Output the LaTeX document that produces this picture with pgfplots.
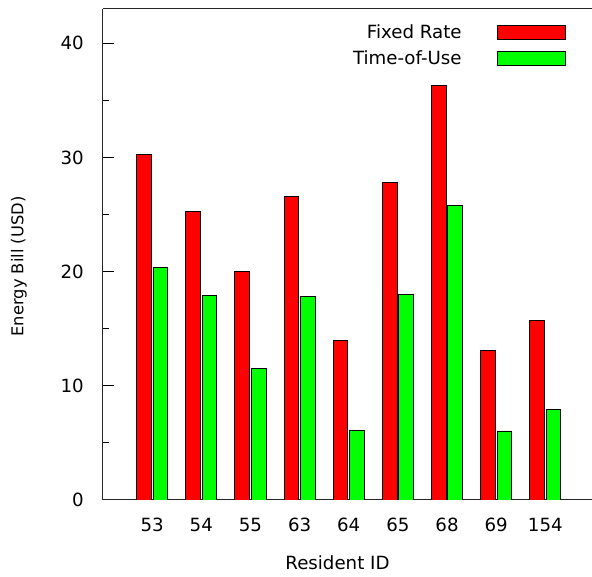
\documentclass[border=0pt]{standalone}
\usepackage{fontspec}
\setmainfont{DejaVu Sans}
\usepackage{pgfplots}
\pgfplotsset{compat=1.18}
\definecolor{barred}{RGB}{255,0,0}
\definecolor{bargreen}{RGB}{0,255,0}
\begin{document}
\fontsize{18.2pt}{22pt}\selectfont
\begin{tikzpicture}
\useasboundingbox (-103pt,-77pt) rectangle (489pt,500pt);
\begin{axis}[
  scale only axis,
  width=489pt, height=491pt,
  xmin=-1, xmax=8.95,
  ymin=0, ymax=43,
  axis x line=box,
  axis y line=left,
  axis line style={line width=1pt, color=black!85, -},
  x axis line style={-},
  y axis line style={-},
  xtick={0,1,2,3,4,5,6,7,8},
  xticklabels={53,54,55,63,64,65,68,69,154},
  x tick style={draw=none},
  ytick={0,10,20,30,40},
  minor ytick={5,15,25,35},
  tick align=inside,
  major tick length=11pt,
  minor tick length=5.7pt,
  y tick style={line width=1pt, color=black},
  /pgf/number format/assume math mode=true,
  yticklabel style={inner sep=0pt, anchor=east, xshift=-19pt},
  xticklabel style={inner sep=0pt, anchor=north, yshift=-7pt},
  xlabel={Resident ID},
  ylabel={Energy Bill (USD)},
  xlabel style={at={(rel axis cs:0.4795,0)}, anchor=north, inner sep=0pt, yshift=-55pt},
  ylabel style={at={(rel axis cs:0,0.4756)}, anchor=center, inner sep=0pt, yshift=84pt, font=\fontsize{16.3pt}{20pt}\selectfont},
  ybar,
  bar width=0.3,
  legend image code/.code={\draw[#1,line width=0.8pt] (0pt,-7pt) rectangle (68pt,7pt);},
  legend style={at={(rel axis cs:0.9468,0.9726)}, anchor=north east, draw=none, fill=none,
    inner sep=0pt, outer sep=0pt, row sep=6pt, column sep=35.6pt,
    nodes={inner sep=0pt, text height=16pt, text depth=4pt}},
  legend cell align=right,
  legend plot pos=right,
]
\addplot[fill=barred, draw=black, line width=0.8pt, bar shift=-0.167] coordinates {
  (0,30.3) (1,25.3) (2,20.0) (3,26.6) (4,14.0) (5,27.8) (6,36.3) (7,13.1) (8,15.7)
};
\addlegendentry{Fixed Rate}
\addplot[fill=bargreen, draw=black, line width=0.8pt, bar shift=0.167] coordinates {
  (0,20.4) (1,17.9) (2,11.5) (3,17.8) (4,6.1) (5,18.0) (6,25.8) (7,6.05) (8,7.9)
};
\addlegendentry{Time-of-Use}
\end{axis}
\end{tikzpicture}
\end{document}
